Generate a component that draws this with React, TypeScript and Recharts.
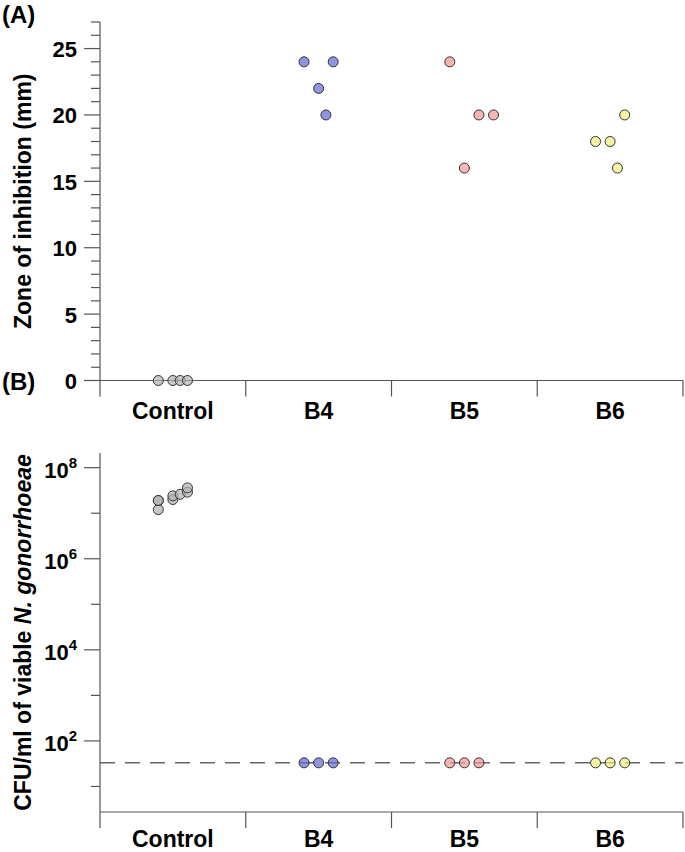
import React from "react";
import { ScatterChart, Scatter, XAxis, YAxis, ReferenceLine } from "recharts";

const categories = ["Control", "B4", "B5", "B6"];

// (A) zone of inhibition (mm), one array per group
const zoneControl = [0, 0, 0, 0];
const zoneB4 = [24, 22, 20, 24];
const zoneB5 = [24, 16, 20, 20];
const zoneB6 = [18, 18, 16, 20];
// horizontal jitter of each point inside its category (category width = 1)
const zoneJitterControl = [-0.1, 0, 0.05, 0.1];
const zoneJitterB4 = [-0.1, 0, 0.05, 0.1];
const zoneJitterB5 = [-0.1, 0, 0.1, 0.2];
const zoneJitterB6 = [-0.1, 0, 0.05, 0.1];
const zoneTicks = Array.from({ length: 28 }, (_, i) => i);

// (B) CFU/ml of viable N. gonorrhoeae
const cfuControl = [1.2e7, 1.9e7, 1.9e7, 2.0e7, 2.4e7, 2.6e7, 2.9e7, 3.6e7];
const cfuJitterControl = [-0.1, -0.1, -0.1, 0, 0, 0.05, 0.1, 0.1];
const cfuB4 = [33, 33, 33];
const cfuB5 = [33, 33, 33];
const cfuB6 = [33, 33, 33];
const cfuJitter = [-0.1, 0, 0.1];
const detectionLimit = 33;
const cfuTicks = [1e1, 1e2, 1e3, 1e4, 1e5, 1e6, 1e7, 1e8];

const catTicks = [0, 0.5, 1, 1.5, 2, 2.5, 3, 3.5, 4];

const FONT = '"Liberation Sans", Arial, Helvetica, sans-serif';
const AXIS = "#555";

const colors = {
  Control: "#b0b0b0",
  B4: "#5e6ad6",
  B5: "#f69494",
  B6: "#f4ec7e",
};

function toPoints(cat: number, values: number[], jitter: number[]) {
  return values.map((v, i) => ({ x: cat + 0.5 + jitter[i], y: v }));
}

const dot = (fill: string) => (props: any) => (
  <circle
    cx={props.cx}
    cy={props.cy}
    r={5}
    fill={fill}
    fillOpacity={0.7}
    stroke="#333"
    strokeWidth={1}
  />
);

const CatTick = (props: any) => {
  const { x, y, payload, labelDy } = props;
  const v = payload.value;
  if (Number.isInteger(v)) {
    return <line x1={x} x2={x} y1={y} y2={y + 16} stroke={AXIS} strokeWidth={1.2} />;
  }
  return (
    <text
      x={x}
      y={y + labelDy}
      textAnchor="middle"
      fontFamily={FONT}
      fontWeight="bold"
      fontSize={23}
      fill="#000"
    >
      {categories[Math.floor(v)]}
    </text>
  );
};

const ZoneTick = (props: any) => {
  const { x, y, payload } = props;
  const v = payload.value;
  const major = v % 5 === 0;
  return (
    <g>
      <line x1={x - (major ? 16 : 9)} x2={x} y1={y} y2={y} stroke={AXIS} strokeWidth={1.2} />
      {major && (
        <text
          x={x - 23}
          y={y + 8.5}
          textAnchor="end"
          fontFamily={FONT}
          fontWeight="bold"
          fontSize={22}
          fill="#000"
        >
          {v}
        </text>
      )}
    </g>
  );
};

const CfuTick = (props: any) => {
  const { x, y, payload } = props;
  const exp = Math.round(Math.log10(payload.value));
  const major = exp % 2 === 0;
  return (
    <g>
      <line x1={x - (major ? 16 : 9)} x2={x} y1={y} y2={y} stroke={AXIS} strokeWidth={1.2} />
      {major && (
        <text
          x={x - 23}
          y={y + 10}
          textAnchor="end"
          fontFamily={FONT}
          fontWeight="bold"
          fontSize={22}
          fill="#000"
        >
          10
          <tspan dy={-10} fontSize={15}>
            {exp}
          </tspan>
        </text>
      )}
    </g>
  );
};

const YTitle = ({ top, height, children }: any) => (
  <svg
    width={40}
    height={height}
    style={{ position: "absolute", left: 0, top, overflow: "visible" }}
  >
    <text
      transform={`translate(31, ${height / 2}) rotate(-90)`}
      textAnchor="middle"
      fontFamily={FONT}
      fontWeight="bold"
      fontSize={23}
      fill="#000"
    >
      {children}
    </text>
  </svg>
);

const PanelLabel = ({ top, text }: any) => (
  <div
    style={{
      position: "absolute",
      left: 2,
      top,
      fontFamily: FONT,
      fontWeight: "bold",
      fontSize: 24,
      lineHeight: "24px",
    }}
  >
    {text}
  </div>
);

export default function App() {
  const zoneSeries = [
    toPoints(0, zoneControl, zoneJitterControl),
    toPoints(1, zoneB4, zoneJitterB4),
    toPoints(2, zoneB5, zoneJitterB5),
    toPoints(3, zoneB6, zoneJitterB6),
  ];
  const cfuSeries = [
    toPoints(0, cfuControl, cfuJitterControl),
    toPoints(1, cfuB4, cfuJitter),
    toPoints(2, cfuB5, cfuJitter),
    toPoints(3, cfuB6, cfuJitter),
  ];

  return (
    <div style={{ position: "absolute", left: 0, top: 0, width: 685, height: 852, background: "#fff", overflow: "hidden" }}>
      <div style={{ position: "absolute", left: 0, top: 0 }}>
        <ScatterChart width={685} height={425} margin={{ top: 22, right: 2, bottom: 0, left: 0 }}>
          <XAxis
            type="number"
            dataKey="x"
            domain={[0, 4]}
            ticks={catTicks}
            interval={0}
            tick={<CatTick labelDy={38.5} />}
            tickLine={false}
            tickSize={0}
            tickMargin={0}
            height={44.5}
            axisLine={{ stroke: AXIS, strokeWidth: 1.2 }}
          />
          <YAxis
            type="number"
            dataKey="y"
            domain={[0, 27]}
            ticks={zoneTicks}
            interval={0}
            tick={<ZoneTick />}
            tickLine={false}
            tickSize={0}
            tickMargin={0}
            width={100}
            axisLine={{ stroke: AXIS, strokeWidth: 1.2 }}
          />
          {categories.map((c, i) => (
            <Scatter
              key={c}
              data={zoneSeries[i]}
              shape={dot(colors[c as keyof typeof colors])}
              isAnimationActive={false}
            />
          ))}
        </ScatterChart>
      </div>
      <div style={{ position: "absolute", left: 0, top: 425 }}>
        <ScatterChart width={685} height={427} margin={{ top: 28, right: 2, bottom: 0, left: 0 }}>
          <XAxis
            type="number"
            dataKey="x"
            domain={[0, 4]}
            ticks={catTicks}
            interval={0}
            tick={<CatTick labelDy={34.5} />}
            tickLine={false}
            tickSize={0}
            tickMargin={0}
            height={40}
            axisLine={{ stroke: AXIS, strokeWidth: 1.2 }}
          />
          <YAxis
            type="number"
            dataKey="y"
            scale="log"
            domain={[2.75, 2.1e8]}
            allowDataOverflow
            ticks={cfuTicks}
            interval={0}
            tick={<CfuTick />}
            tickLine={false}
            tickSize={0}
            tickMargin={0}
            width={100}
            axisLine={{ stroke: AXIS, strokeWidth: 1.2 }}
          />
          <ReferenceLine
            y={detectionLimit}
            stroke="#666"
            strokeWidth={1.5}
            strokeDasharray="15 10"
          />
          {categories.map((c, i) => (
            <Scatter
              key={c}
              data={cfuSeries[i]}
              shape={dot(colors[c as keyof typeof colors])}
              isAnimationActive={false}
            />
          ))}
        </ScatterChart>
      </div>
      <YTitle top={22} height={358.5}>
        Zone of inhibition (mm)
      </YTitle>
      <YTitle top={453} height={359}>
        CFU/ml of viable <tspan fontStyle="italic">N. gonorrhoeae</tspan>
      </YTitle>
      <PanelLabel top={2.7} text="(A)" />
      <PanelLabel top={369.7} text="(B)" />
    </div>
  );
}
